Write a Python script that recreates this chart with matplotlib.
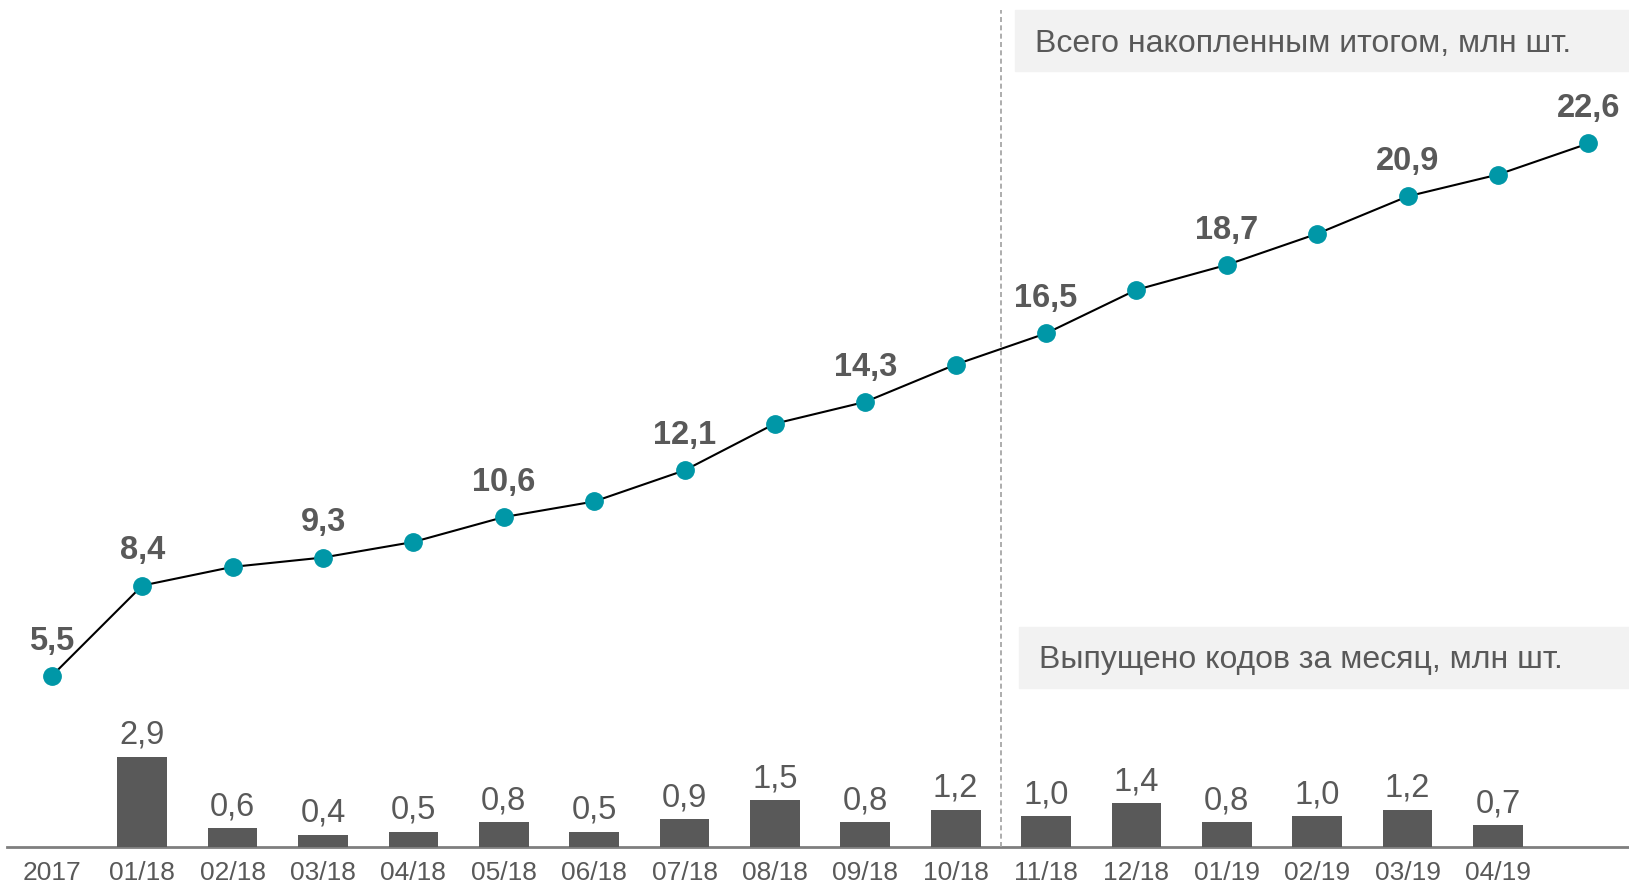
import matplotlib
matplotlib.use("Agg")
import matplotlib.pyplot as plt
from matplotlib.patches import Rectangle

# -----------------------------
# Data
# -----------------------------
months = ["2017", "01/18", "02/18", "03/18", "04/18", "05/18", "06/18", "07/18",
          "08/18", "09/18", "10/18", "11/18", "12/18", "01/19", "02/19", "03/19",
          "04/19", ""]
cumulative = [5.5, 8.4, 9.0, 9.3, 9.8, 10.6, 11.1, 12.1, 13.6, 14.3, 15.5,
              16.5, 17.9, 18.7, 19.7, 20.9, 21.6, 22.6]
cum_labeled = [0, 1, 3, 5, 7, 9, 11, 13, 15, 17]   # points that carry a value label
monthly = [2.9, 0.6, 0.4, 0.5, 0.8, 0.5, 0.9, 1.5, 0.8, 1.2,
           1.0, 1.4, 0.8, 1.0, 1.2, 0.7]             # 01/18 .. 04/19
title_total = "Всего накопленным итогом, млн шт."
title_month = "Выпущено кодов за месяц, млн шт."

def fmt(v):
    return f"{v:.1f}".replace(".", ",")

# -----------------------------
# Style
# -----------------------------
plt.rcParams["font.family"] = ["Liberation Sans", "DejaVu Sans"]
GREY = "#595959"
TEAL = "#0097a7"

W, H = 1629, 887
fig = plt.figure(figsize=(W / 100, H / 100), dpi=100)
ax = fig.add_axes([0, 0, 1, 1])

x_line = list(range(len(cumulative)))
x_bars = list(range(1, len(monthly) + 1))

# bars
bars = ax.bar(x_bars, monthly, width=0.55, color=GREY, zorder=2)
ax.bar_label(bars, labels=[fmt(v) for v in monthly], padding=5,
             fontsize=23.5, color=GREY)

# cumulative line
ax.plot(x_line, cumulative, color="black", lw=1.5, zorder=3,
        marker="o", markersize=12.5, markerfacecolor=TEAL,
        markeredgecolor=TEAL)
for i in cum_labeled:
    ax.annotate(fmt(cumulative[i]), (x_line[i], cumulative[i]),
                xytext=(0, 19.5), textcoords="offset points",
                ha="center", va="baseline", fontsize=23.5,
                fontweight="bold", color=GREY)

# baseline and separator
ax.axhline(0, xmin=7 / W, xmax=1, color="#7f7f7f", lw=2, zorder=1)
ax.axvline(10.5, ymin=(H - 848) / H, ymax=(H - 11) / H, color="#a0a0a0",
           lw=1.2, linestyle=(0, (3, 2)), zorder=1)

# caption boxes
ax.add_patch(Rectangle((1015 / W, 1 - 72 / H), 1, 61 / H,
                       transform=ax.transAxes, color="#f2f2f2", zorder=0))
ax.text(1035 / W, 1 - 44 / H, title_total, transform=ax.transAxes,
        fontsize=23, color=GREY, va="center", ha="left")
ax.add_patch(Rectangle((1019 / W, 1 - 689 / H), 1, 61 / H,
                       transform=ax.transAxes, color="#f2f2f2", zorder=0))
ax.text(1039 / W, 1 - 660 / H, title_month, transform=ax.transAxes,
        fontsize=23, color=GREY, va="center", ha="left")

# -----------------------------
# Formatting
# -----------------------------
ax.set_xlim(-0.574, 17.45)
ax.set_ylim(-1.25, 27.24)
ax.set_xticks(x_line, months)
ax.tick_params(axis="x", length=0, pad=-19, labelsize=19, labelcolor=GREY)
ax.set_yticks([])
for s in ax.spines.values():
    s.set_visible(False)

fig.savefig("out.png", dpi=100)
